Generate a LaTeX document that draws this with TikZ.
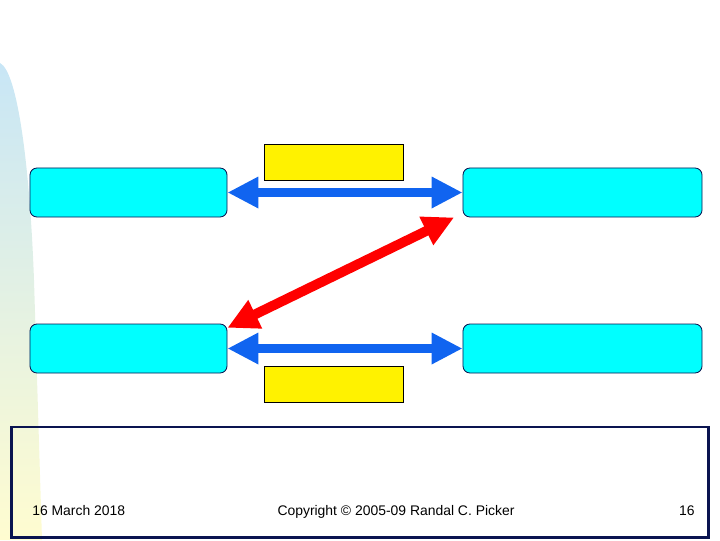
\documentclass[tikz,border=0pt]{standalone}
\usepackage{fontspec}
\setmainfont{Liberation Sans}
\definecolor{boxcyan}{RGB}{0,255,255}
\definecolor{boxnavy}{RGB}{10,20,80}
\definecolor{arrblue}{RGB}{16,100,240}
\definecolor{arrred}{RGB}{255,0,0}
\definecolor{stripblue}{RGB}{200,230,246}
\definecolor{stripyellow}{RGB}{255,252,208}
\usetikzlibrary{arrows.meta,positioning}
\tikzset{
  partybox/.style={draw=boxnavy, fill=boxcyan, rounded corners=5pt, line width=0.6pt, minimum height=1.225cm},
  tagbox/.style={draw=black, fill=yellow, line width=0.6pt, minimum width=3.475cm, minimum height=0.9cm},
  twoway/.style={line width=7pt, {Triangle[length=22pt,width=21pt]}-{Triangle[length=22pt,width=21pt]}},
  foot/.style={font=\fontsize{9.9pt}{11pt}\selectfont, inner sep=0pt}
}
\begin{document}
\begin{tikzpicture}[x=0.025cm, y=-0.025cm]
  \useasboundingbox (0,0) rectangle (720,540);

  %% Side strip
  \shade[top color=stripblue, bottom color=stripyellow]
    (0,63) .. controls (18,72) and (30,170) .. (34,280) -- (42,540) -- (0,540) -- cycle;

  %% Party boxes
  \node[partybox, minimum width=4.925cm] (ul) at (128.5,192.5) {};
  \node[partybox, minimum width=5.975cm] (ur) at (582.5,192.5) {};
  \node[partybox, minimum width=4.925cm] (ll) at (128.5,348.5) {};
  \node[partybox, minimum width=5.975cm] (lr) at (582.5,348.5) {};

  %% Labels
  \node[tagbox] (tagtop) at (333.5,162) {};
  \node[tagbox] (tagbot) at (333.5,384) {};

  %% Arrows
  \draw[twoway, arrblue] (ul.east) -- (ur.west);
  \draw[twoway, arrblue] (ll.east) -- (lr.west);
  \draw[twoway, arrred] ([xshift=-6pt]ur.south west) -- ([yshift=-3pt]ll.north east);

  %% Footer
  \node[draw=boxnavy, line width=2.1pt, minimum width=17.4cm, minimum height=2.75cm] (footer) at (360,482) {};
  \node[foot, anchor=base west] (date) at (32,515) {16 March 2018};
  \node[foot, anchor=base] (copy) at (396,515) {Copyright © 2005-09 Randal C. Picker};
  \node[foot, anchor=base east] (page) at (695,515) {16};
\end{tikzpicture}
\end{document}
